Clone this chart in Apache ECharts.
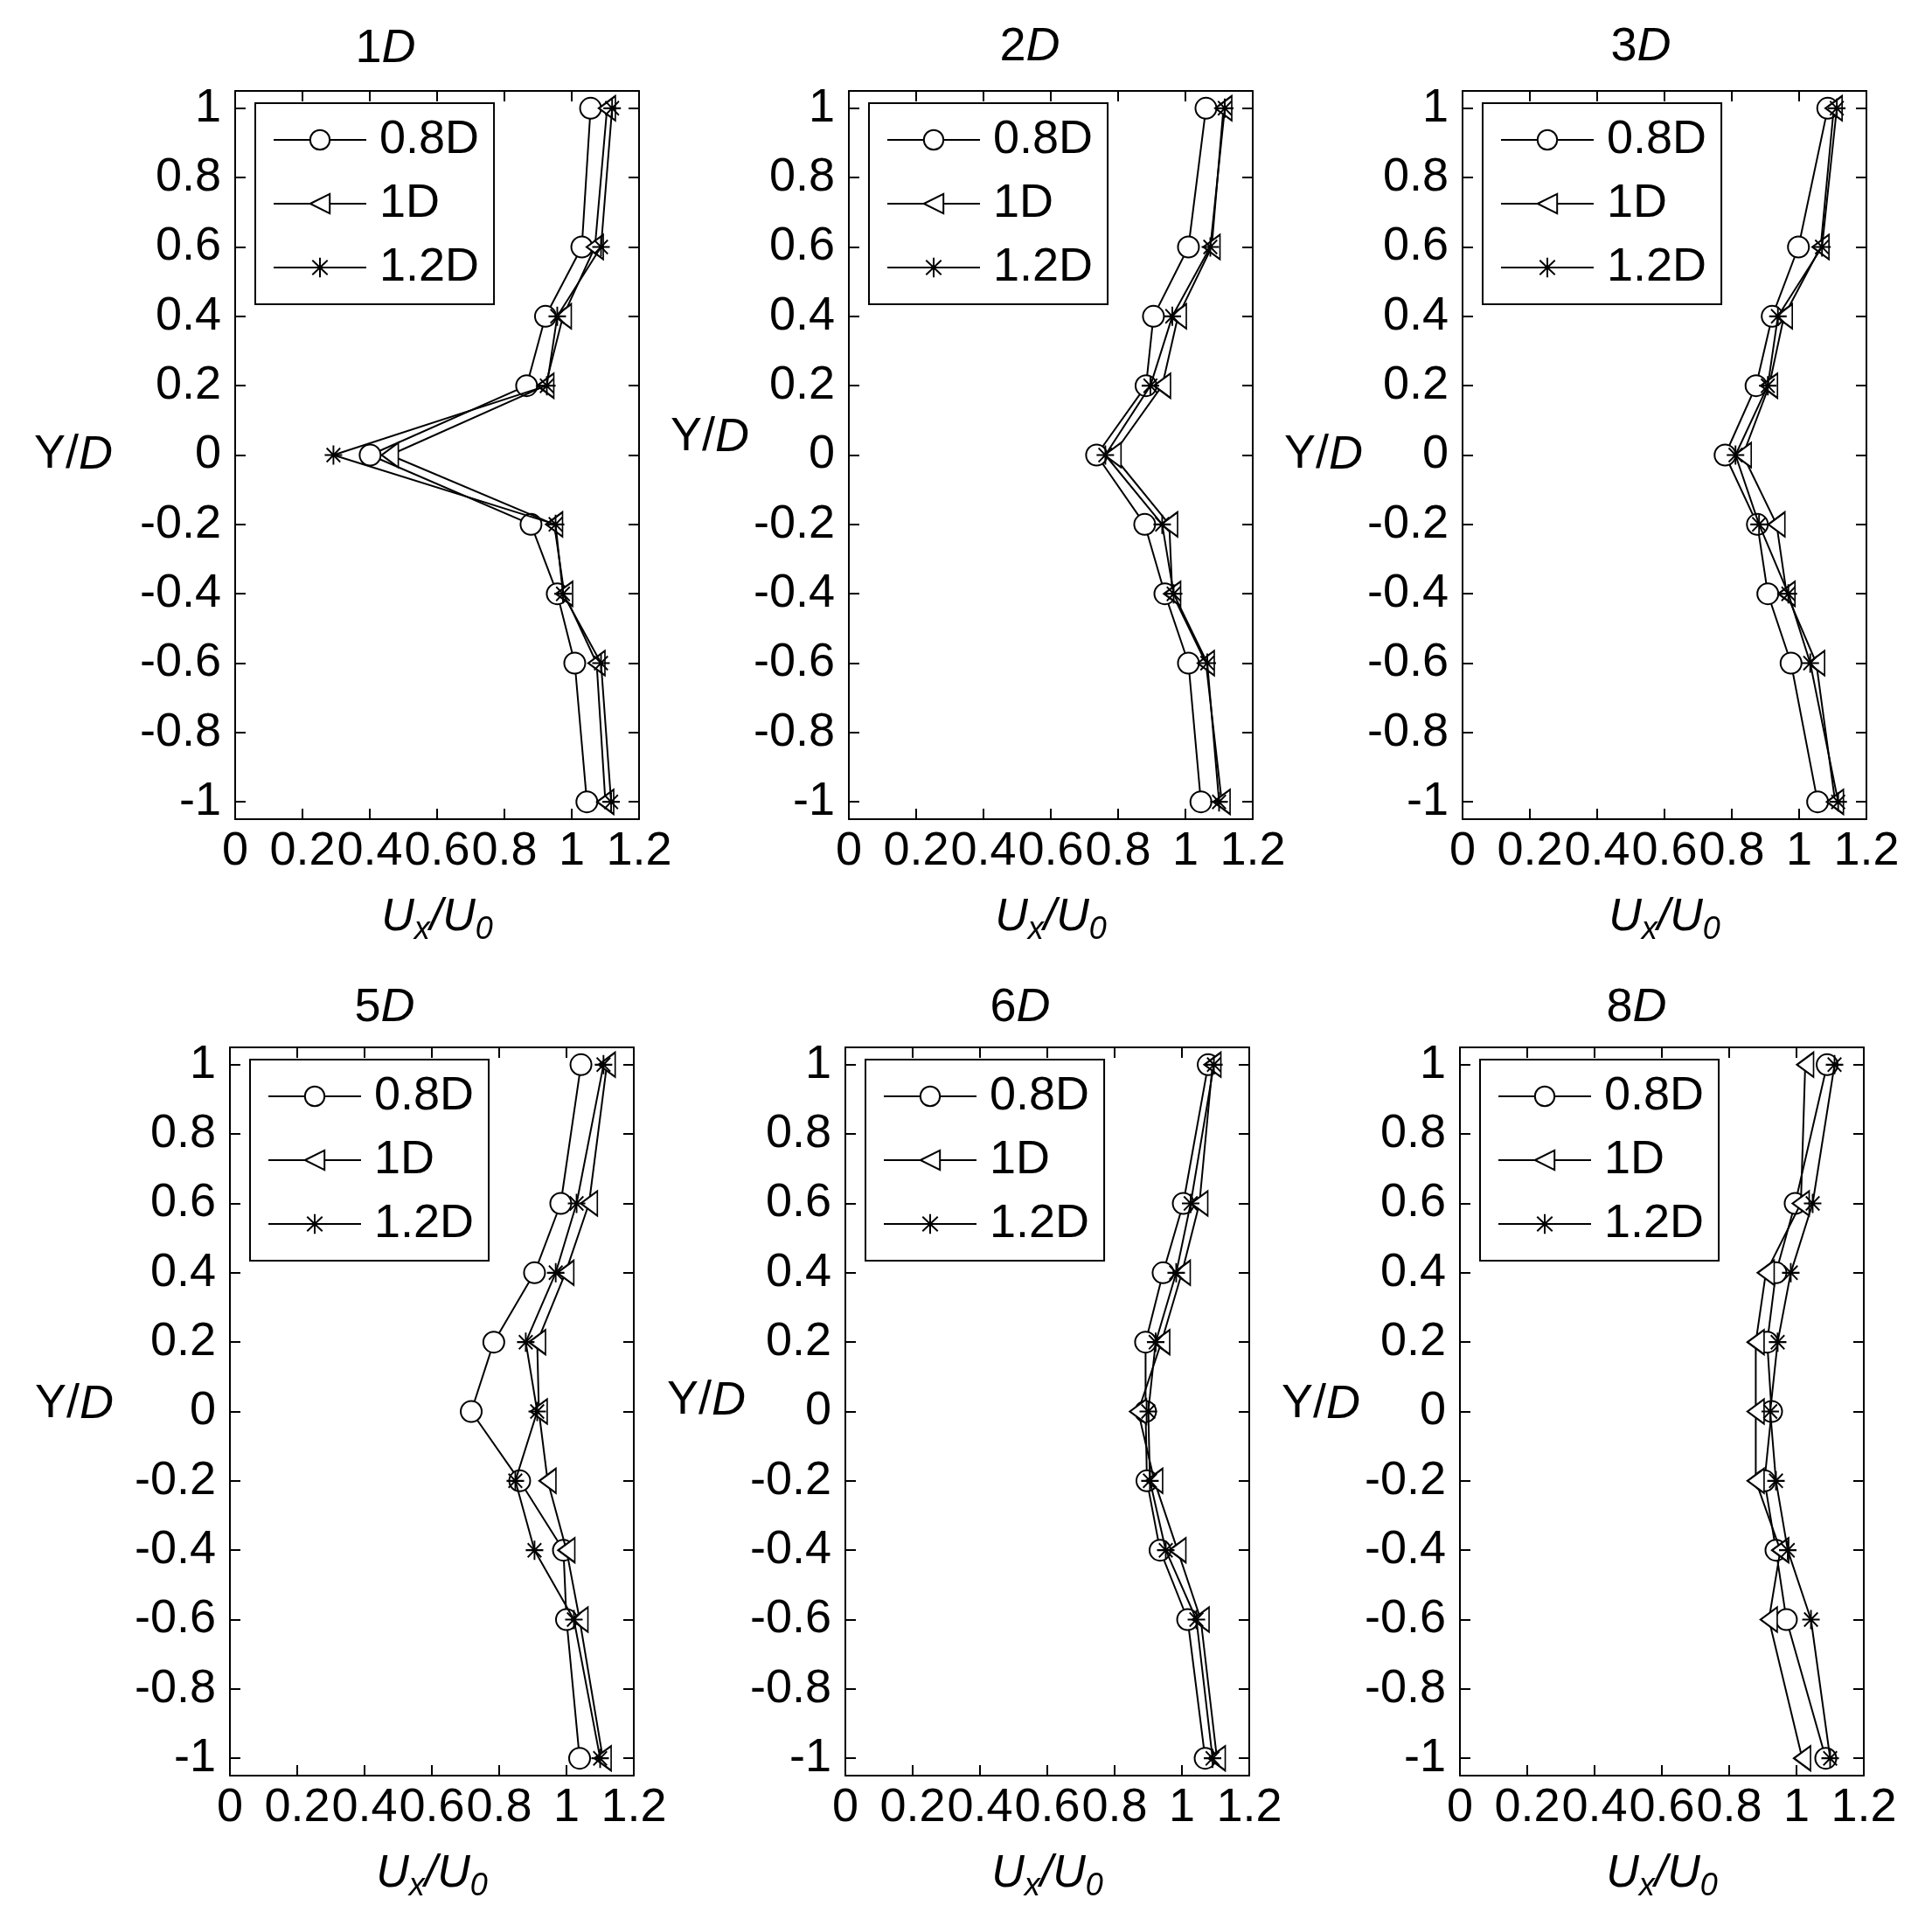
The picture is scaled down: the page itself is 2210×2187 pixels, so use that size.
<!DOCTYPE html>
<html>
<head>
<meta charset="utf-8">
<script src="https://cdn.jsdelivr.net/npm/echarts@6/dist/echarts.min.js"></script>
<style>
  html, body { margin: 0; padding: 0; background: #fff; }
  #chart { width: 2210px; height: 2187px; }
</style>
</head>
<body>
<div id="chart"></div>
<script>
// positions across the wake (Y/D) where the profiles were sampled
const yPos = [1, 0.6, 0.4, 0.2, 0, -0.2, -0.4, -0.6, -1];
const yTicks = [-1, -0.8, -0.6, -0.4, -0.2, 0, 0.2, 0.4, 0.6, 0.8, 1];
const panelNames = ['1', '2', '3', '5', '6', '8'];
const seriesNames = ['0.8D', '1D', '1.2D'];

// Ux/U0 values, one array per panel and series (same order as yPos)
const d1_08 = [1.056, 1.030, 0.922, 0.866, 0.401, 0.879, 0.957, 1.009, 1.045];
const d1_10 = [1.105, 1.069, 0.974, 0.922, 0.460, 0.948, 0.978, 1.074, 1.100];
const d1_12 = [1.120, 1.087, 0.957, 0.926, 0.292, 0.952, 0.974, 1.087, 1.117];

const d2_08 = [1.061, 1.009, 0.905, 0.883, 0.736, 0.879, 0.939, 1.009, 1.046];
const d2_10 = [1.113, 1.078, 0.978, 0.931, 0.784, 0.952, 0.961, 1.061, 1.108];
const d2_12 = [1.117, 1.074, 0.961, 0.896, 0.762, 0.931, 0.965, 1.065, 1.100];

const d3_08 = [1.085, 0.998, 0.920, 0.872, 0.780, 0.876, 0.907, 0.976, 1.055];
const d3_10 = [1.103, 1.064, 0.955, 0.911, 0.833, 0.933, 0.963, 1.051, 1.107];
const d3_12 = [1.112, 1.068, 0.937, 0.907, 0.811, 0.881, 0.968, 1.033, 1.116];

const d5_08 = [1.043, 0.983, 0.905, 0.784, 0.717, 0.861, 0.991, 1.000, 1.039];
const d5_10 = [1.120, 1.067, 0.997, 0.913, 0.918, 0.944, 1.000, 1.039, 1.108];
const d5_12 = [1.110, 1.030, 0.968, 0.879, 0.913, 0.848, 0.905, 1.022, 1.100];

const d6_08 = [1.078, 1.004, 0.944, 0.892, 0.892, 0.896, 0.935, 1.017, 1.069];
const d6_10 = [1.091, 1.052, 1.000, 0.939, 0.870, 0.918, 0.987, 1.056, 1.104];
const d6_12 = [1.095, 1.026, 0.983, 0.922, 0.900, 0.905, 0.952, 1.043, 1.091];

const d8_08 = [1.091, 0.996, 0.939, 0.913, 0.926, 0.905, 0.939, 0.970, 1.087];
const d8_10 = [1.026, 1.013, 0.909, 0.879, 0.879, 0.879, 0.952, 0.918, 1.017];
const d8_12 = [1.113, 1.048, 0.983, 0.944, 0.922, 0.939, 0.974, 1.043, 1.100];

const panelData = [
  [d1_08, d1_10, d1_12],
  [d2_08, d2_10, d2_12],
  [d3_08, d3_10, d3_12],
  [d5_08, d5_10, d5_12],
  [d6_08, d6_10, d6_12],
  [d8_08, d8_10, d8_12],
];

// layout (px)
const gridLeft = [269, 971, 1673, 263, 967, 1670];
const gridTop = [104, 104, 104, 1198, 1198, 1198];
const gridW = 462, gridH = 833;
const yNameGap = [140, 97, 95, 133, 93, 100];
const yNameLift = [0, 20, 0, 8, 12, 8];
const titleX = [441, 1178, 1877, 440, 1167, 1872];
const titleY = [56, 54, 54, 1153, 1153, 1153];

const FONT = 'Liberation Sans, Arial, sans-serif';
const FS = 54;

// markers: open circle, open left triangle, asterisk
const symbols = ['circle', 'path://M0,14L18,0L18,28Z', 'path://M9,0L9,22M0,11L18,11M2,3L16,19M2,19L16,3'];
const symbolSizes = [24, [19, 28], [20, 22]];

const axisLine = { show: true, onZero: false, lineStyle: { color: '#000', width: 2 } };
const axisTick = { show: true, inside: true, length: 12, lineStyle: { color: '#000', width: 2 } };

const chart = echarts.init(document.getElementById('chart'));

const grid = [], xAxis = [], yAxis = [], series = [], legend = [], graphic = [];

panelNames.forEach((p, i) => {
  grid.push({ left: gridLeft[i], top: gridTop[i], width: gridW, height: gridH, outerBoundsMode: 'none' });

  const xBase = { gridIndex: i, type: 'value', min: 0, max: 1.2, interval: 0.2, splitLine: { show: false }, axisLine, axisTick };
  xAxis.push(Object.assign({}, xBase, {
    position: 'bottom',
    axisLabel: { fontSize: FS, fontFamily: FONT, color: '#000', margin: 10 },
    name: '{u|U}{s|x}{u|/U}{s|0}',
    nameLocation: 'middle',
    nameGap: 87,
    nameTextStyle: {
      rich: {
        u: { fontSize: 52, fontFamily: FONT, fontStyle: 'italic', color: '#000', verticalAlign: 'top' },
        s: { fontSize: 36, fontFamily: FONT, fontStyle: 'italic', color: '#000', verticalAlign: 'top', padding: [22, 0, 0, 0] },
      },
    },
  }));
  xAxis.push(Object.assign({}, xBase, { position: 'top', axisLabel: { show: false } }));

  const yBase = {
    gridIndex: i, type: 'value', min: -1.05, max: 1.05, splitLine: { show: false }, axisLine,
    axisTick: Object.assign({}, axisTick, { customValues: yTicks }),
  };
  yAxis.push(Object.assign({}, yBase, {
    position: 'left',
    axisLabel: { customValues: yTicks, fontSize: FS, fontFamily: FONT, color: '#000', margin: 16, formatter: (v) => String(v) },
    name: 'Y/{i|D}',
    nameLocation: 'middle',
    nameRotate: 0,
    nameGap: yNameGap[i],
    nameTextStyle: {
      fontSize: FS, fontFamily: FONT, color: '#000',
      padding: [0, 0, yNameLift[i] * 2, 0],
      rich: { i: { fontSize: FS, fontFamily: FONT, fontStyle: 'italic', color: '#000' } },
    },
  }));
  yAxis.push(Object.assign({}, yBase, { position: 'right', axisLabel: { show: false } }));

  seriesNames.forEach((name, k) => {
    const vals = panelData[i][k];
    series.push({
      name,
      type: 'line',
      xAxisIndex: 2 * i,
      yAxisIndex: 2 * i,
      data: yPos.map((y, j) => [vals[j], y]),
      symbol: symbols[k],
      symbolSize: symbolSizes[k],
      symbolKeepAspect: false,
      showAllSymbol: true,
      lineStyle: { color: '#000', width: 2 },
      itemStyle: { color: k === 2 ? '#000' : '#fff', borderColor: '#000', borderWidth: 2 },
      emphasis: { disabled: true },
      z: 3 + k,
    });
  });

  legend.push({
    data: seriesNames,
    orient: 'vertical',
    left: gridLeft[i] + 23,
    top: gridTop[i] + 14,
    selectedMode: false,
    itemWidth: 106,
    itemHeight: 28,
    itemGap: 19,
    padding: [15, 17, 15, 20],
    backgroundColor: '#fff',
    borderColor: '#000',
    borderWidth: 2,
    textStyle: { fontSize: FS, fontFamily: FONT, color: '#000', padding: [0, 0, 0, 10] },
  });

  graphic.push({
    type: 'text',
    x: titleX[i],
    y: titleY[i],
    style: {
      text: p + '{i|D}',
      fontSize: FS, fontFamily: FONT, fill: '#000',
      align: 'center', verticalAlign: 'middle',
      rich: { i: { fontSize: FS, fontFamily: FONT, fontStyle: 'italic', fill: '#000' } },
    },
  });
});

chart.setOption({
  animation: false,
  backgroundColor: '#fff',
  grid, xAxis, yAxis, series, legend, graphic,
});
</script>
</body>
</html>
